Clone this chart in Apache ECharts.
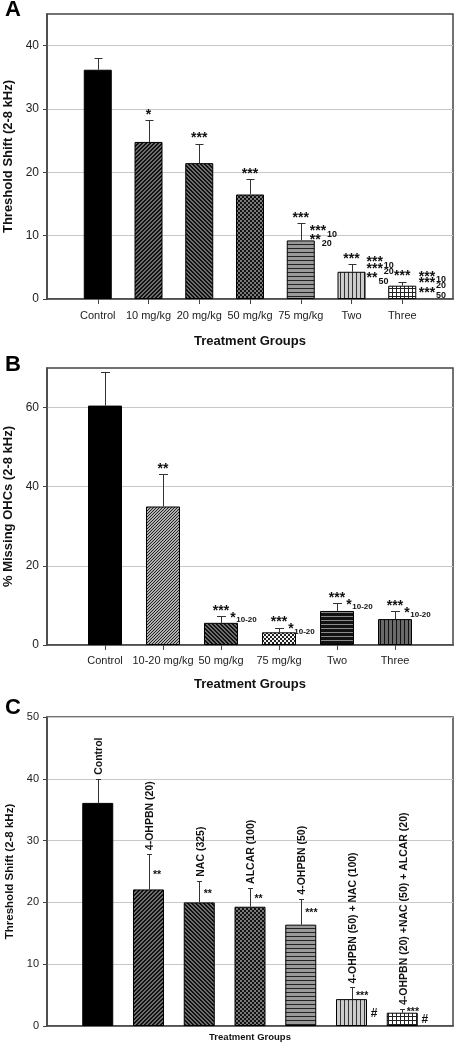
<!DOCTYPE html>
<html><head><meta charset="utf-8">
<script src="https://cdn.jsdelivr.net/npm/echarts@6/dist/echarts.min.js"></script>
<style>html,body{margin:0;padding:0;background:#fff}#c{width:455px;height:1050px}</style>
</head><body><div id="c"></div>
<script>
// ---------- DATA ----------
const catsA = ['Control','10 mg/kg','20 mg/kg','50 mg/kg','75 mg/kg','Two','Three'];
const valsA = [36.2, 24.8, 21.45, 16.5, 9.25, 4.3, 2.1];
const errA  = [1.8, 3.4, 3.1, 2.4, 2.75, 1.25, 0.65];
const sigA  = ['', '*', '***', '***', '***', '***', '***'];
const sideA = [[], [], [], [], [['***','10'],['**','20']], [['***','10'],['***','20'],['**','50']], [['***','10'],['***','20'],['***','50']]];
const ticksA = [0, 10, 20, 30, 40];

const catsB = ['Control','10-20 mg/kg','50 mg/kg','75 mg/kg','Two','Three'];
const valsB = [60.5, 35.0, 5.6, 3.2, 8.6, 6.55];
const errB  = [8.4, 8.2, 1.8, 1.2, 2.1, 2.1];
const sigB  = ['', '**', '***', '***', '***', '***'];
const sideB = [[], [], [['*','10-20']], [['*','10-20']], [['*','10-20']], [['*','10-20']]];
const ticksB = [0, 20, 40, 60];

const catsC = ['Control','4-OHPBN (20)','NAC (325)','ALCAR (100)','4-OHPBN (50)','4-OHPBN (50) + NAC (100)','4-OHPBN (20) +NAC (50) + ALCAR (20)'];
const valsC = [36.1, 22.1, 20.0, 19.3, 16.4, 4.35, 2.15];
const errC  = [3.9, 5.7, 3.5, 3.05, 4.2, 1.9, 0.6];
const sigC  = ['', '**', '**', '**', '***', '***', '***'];
const hashC = ['', '', '', '', '', '#', '#'];
const ticksC = [0, 10, 20, 30, 40, 50];

const xTitle = 'Treatment Groups';
const yTitleA = 'Threshold Shift (2-8 kHz)';
const yTitleB = '% Missing OHCs (2-8 kHz)';
const yTitleC = 'Threshold Shift (2-8 kHz)';
const panelLetters = ['A', 'B', 'C'];

// ---------- STYLE ----------
const FF = '"Liberation Sans", Arial, sans-serif';
function pat(size, fn) {
  const c = document.createElement('canvas'); c.width = size; c.height = size;
  const g = c.getContext('2d');
  for (let y = 0; y < size; y++) for (let x = 0; x < size; x++) { g.fillStyle = fn(x, y); g.fillRect(x, y, 1, 1); }
  return { image: c, repeat: 'repeat' };
}
const P = {
  solid: '#000',
  diagUp: pat(4, (x, y) => ((x + y) % 4 < 2 ? '#111' : '#6e6e6e')),
  diagDown: pat(4, (x, y) => (((x - y + 8) % 4) < 2 ? '#111' : '#6e6e6e')),
  check: pat(4, (x, y) => ((((x >> 1) + (y >> 1)) % 2) ? '#111' : '#7a7a7a')),
  hstripe: pat(4, (x, y) => (y % 4 === 0 ? '#222' : '#9a9a9a')),
  vstripe: pat(4, (x, y) => (x % 4 === 0 ? '#333' : '#cccccc')),
  grid: pat(4, (x, y) => (x % 4 === 0 || y % 4 === 0 ? '#222' : '#fff')),
  diagLight: pat(3, (x, y) => ((x + y) % 3 === 0 ? '#222' : '#b0b0b0')),
  checkLight: pat(4, (x, y) => ((((x >> 1) + (y >> 1)) % 2) ? '#222' : '#f4f4f4')),
  hDark: pat(4, (x, y) => (y % 4 === 0 ? '#8a8a8a' : '#111')),
  vDark: pat(4, (x, y) => (x % 4 === 0 ? '#111' : '#6a6a6a'))
};
const fillA = [P.solid, P.diagUp, P.diagDown, P.check, P.hstripe, P.vstripe, P.grid];
const fillB = [P.solid, P.diagLight, P.diagDown, P.checkLight, P.hDark, P.vDark];
const fillC = [P.solid, P.diagUp, P.diagDown, P.check, P.hstripe, P.vstripe, P.grid];

// layout tweaks for annotations (pixel offsets)
const sideLayA = {4: {dx: 9, dy: 5.3, rows: [0, 9]}, 5: {dx: 15, dy: -4.4, rows: [0, 6.4, 15.7]}, 6: {dx: 16.5, dy: -7.7, rows: [0, 6, 16]}};
const starDyC = [0, -16.6, -10, -9.4, -13.3, -5, -2.7];
const hashDyC = [0, 0, 0, 0, 0, -12.7, -6.7];

const AX = '#444';
const line = (x1, y1, x2, y2, w) => ({type: 'line', shape: {x1, y1, x2, y2}, style: {stroke: '#333', lineWidth: w || 1}});
const txt = (x, y, s, font, align, extra) => Object.assign({type: 'text', x, y, style: {text: s, font, fill: '#111', align: align || 'left', verticalAlign: 'middle'}}, extra || {});

function errRender(cap, extraFn) {
  return function (params, api) {
    const i = api.value(0), v = api.value(1), e = api.value(2);
    const b = api.coord([i, v]), t = api.coord([i, v + e]);
    const x = Math.round(b[0]) + 0.5, yt = Math.round(t[1]) + 0.5;
    const ch = [line(x, b[1], x, yt), line(x - cap, yt, x + cap, yt)];
    extraFn(i, b, t, api, ch);
    return {type: 'group', children: ch};
  };
}

function xAxisCfg(k, cats, max, opts) {
  const idx = cats.map((_, i) => i);
  return Object.assign({
    gridIndex: k, type: 'value', min: -1, max: max, interval: 1,
    axisLine: {show: true, onZero: false, lineStyle: {color: AX, width: 1.5}},
    axisTick: {show: true, customValues: idx, length: 5, lineStyle: {color: AX}},
    axisLabel: {customValues: idx, formatter: v => cats[v] || '', fontSize: 11, color: '#222', margin: 11, fontFamily: FF},
    splitLine: {show: false},
    name: xTitle, nameLocation: 'middle', nameGap: 36,
    nameTextStyle: {fontWeight: 'bold', fontSize: 13, color: '#111', fontFamily: FF}
  }, opts || {});
}
function yAxisCfg(k, max, interval, ticks, name, opts) {
  return Object.assign({
    gridIndex: k, type: 'value', min: 0, max: max, interval: interval,
    axisLine: {show: true, onZero: false, lineStyle: {color: AX, width: 1.5}},
    axisTick: {show: true, customValues: ticks, length: 4, lineStyle: {color: AX}},
    axisLabel: {customValues: ticks, fontSize: 12, color: '#222', margin: 8, fontFamily: FF},
    splitLine: {show: true, lineStyle: {color: '#c8c8c8', width: 1}},
    name: name, nameLocation: 'middle', nameGap: 28,
    nameTextStyle: {fontWeight: 'bold', fontSize: 13, color: '#111', fontFamily: FF}
  }, opts || {});
}

const gridStyle = {show: true, borderColor: AX, borderWidth: 1.5, backgroundColor: 'transparent', containLabel: false, outerBoundsMode: 'none'};

const option = {
  animation: false,
  textStyle: {fontFamily: FF},
  grid: [
    Object.assign({left: 47, top: 14, right: 2, height: 285}, gridStyle),
    Object.assign({left: 47, top: 368, right: 2, height: 277}, gridStyle),
    Object.assign({left: 47, top: 717, right: 2, height: 309}, gridStyle)
  ],
  xAxis: [
    xAxisCfg(0, catsA, 7),
    xAxisCfg(1, catsB, 6, {nameGap: 33, axisLabel: {customValues: catsB.map((_, i) => i), formatter: v => catsB[v] || '', fontSize: 11, color: '#222', margin: 10, fontFamily: FF}}),
    xAxisCfg(2, catsC, 7, {axisLabel: {show: false}, axisTick: {show: false}, nameGap: 6,
      nameTextStyle: {fontWeight: 'bold', fontSize: 9.5, color: '#111', fontFamily: FF}})
  ],
  yAxis: [
    yAxisCfg(0, 45, 10, ticksA, yTitleA),
    yAxisCfg(1, 70, 20, ticksB, yTitleB),
    yAxisCfg(2, 50, 10, ticksC, yTitleC, {
      axisLabel: {customValues: ticksC, fontSize: 11, color: '#222', margin: 8, fontFamily: FF},
      nameTextStyle: {fontWeight: 'bold', fontSize: 11.5, color: '#111', fontFamily: FF}, nameGap: 30})
  ],
  graphic: panelLetters.map((L, k) => ({
    type: 'text', left: 5, top: [-1, 354, 697][k],
    style: {text: L, font: 'bold 22px ' + FF, fill: '#000'}
  })),
  series: [
    {type: 'bar', xAxisIndex: 0, yAxisIndex: 0, barWidth: 28, silent: true,
     itemStyle: {borderColor: '#000', borderWidth: 1},
     data: valsA.map((v, i) => ({value: [i, v], itemStyle: {color: fillA[i]}}))},
    {type: 'custom', xAxisIndex: 0, yAxisIndex: 0, clip: false, z: 5, silent: true,
     data: valsA.map((v, i) => [i, v, errA[i]]),
     renderItem: errRender(4, (i, b, t, api, ch) => {
       if (sigA[i]) ch.push(txt(b[0], t[1] - 5, sigA[i], 'bold 14px ' + FF, 'center'));
       const L = sideLayA[i];
       if (L) sideA[i].forEach((row, r) => {
         const y = t[1] + L.dy + L.rows[r];
         const x0 = b[0] + L.dx;
         ch.push(txt(x0, y + 3, row[0], 'bold 14px ' + FF, 'left'));
         ch.push(txt(x0 + row[0].length * 5.45 + 1, y + 6, row[1], 'bold 9px ' + FF, 'left'));
       });
     })},
    {type: 'bar', xAxisIndex: 1, yAxisIndex: 1, barWidth: 34, silent: true,
     itemStyle: {borderColor: '#000', borderWidth: 1},
     data: valsB.map((v, i) => ({value: [i, v], itemStyle: {color: fillB[i]}}))},
    {type: 'custom', xAxisIndex: 1, yAxisIndex: 1, clip: false, z: 5, silent: true,
     data: valsB.map((v, i) => [i, v, errB[i]]),
     renderItem: errRender(4.5, (i, b, t, api, ch) => {
       if (sigB[i]) ch.push(txt(b[0], t[1] - 5, sigB[i], 'bold 14px ' + FF, 'center'));
       sideB[i].forEach(row => {
         const x0 = b[0] + 9.3, y = t[1] - 1;
         ch.push(txt(x0, y + 3, row[0], 'bold 14px ' + FF, 'left'));
         ch.push(txt(x0 + 6, y + 5, row[1], 'bold 8px ' + FF, 'left'));
       });
     })},
    {type: 'bar', xAxisIndex: 2, yAxisIndex: 2, barWidth: 31, silent: true,
     itemStyle: {borderColor: '#000', borderWidth: 1},
     data: valsC.map((v, i) => ({value: [i, v], itemStyle: {color: fillC[i]}}))},
    {type: 'custom', xAxisIndex: 2, yAxisIndex: 2, clip: false, z: 5, silent: true,
     data: valsC.map((v, i) => [i, v, errC[i]]),
     renderItem: errRender(2.5, (i, b, t, api, ch) => {
       ch.push(txt(b[0] + 1.5, t[1] - 4, catsC[i], 'bold 10.5px ' + FF, 'left', {rotation: Math.PI / 2}));
       if (sigC[i]) ch.push(txt(b[0] + 4.5, b[1] + starDyC[i] + 2, sigC[i], 'bold 10.5px ' + FF, 'left'));
       if (hashC[i]) {
         const base = api.coord([i, 0]);
         ch.push(txt(b[0] + 22.5, base[1] + hashDyC[i], hashC[i], 'bold 12px ' + FF, 'center'));
       }
     })}
  ]
};
const chart = echarts.init(document.getElementById('c'), null, {renderer: 'canvas'});
chart.setOption(option);
</script>
</body></html>
